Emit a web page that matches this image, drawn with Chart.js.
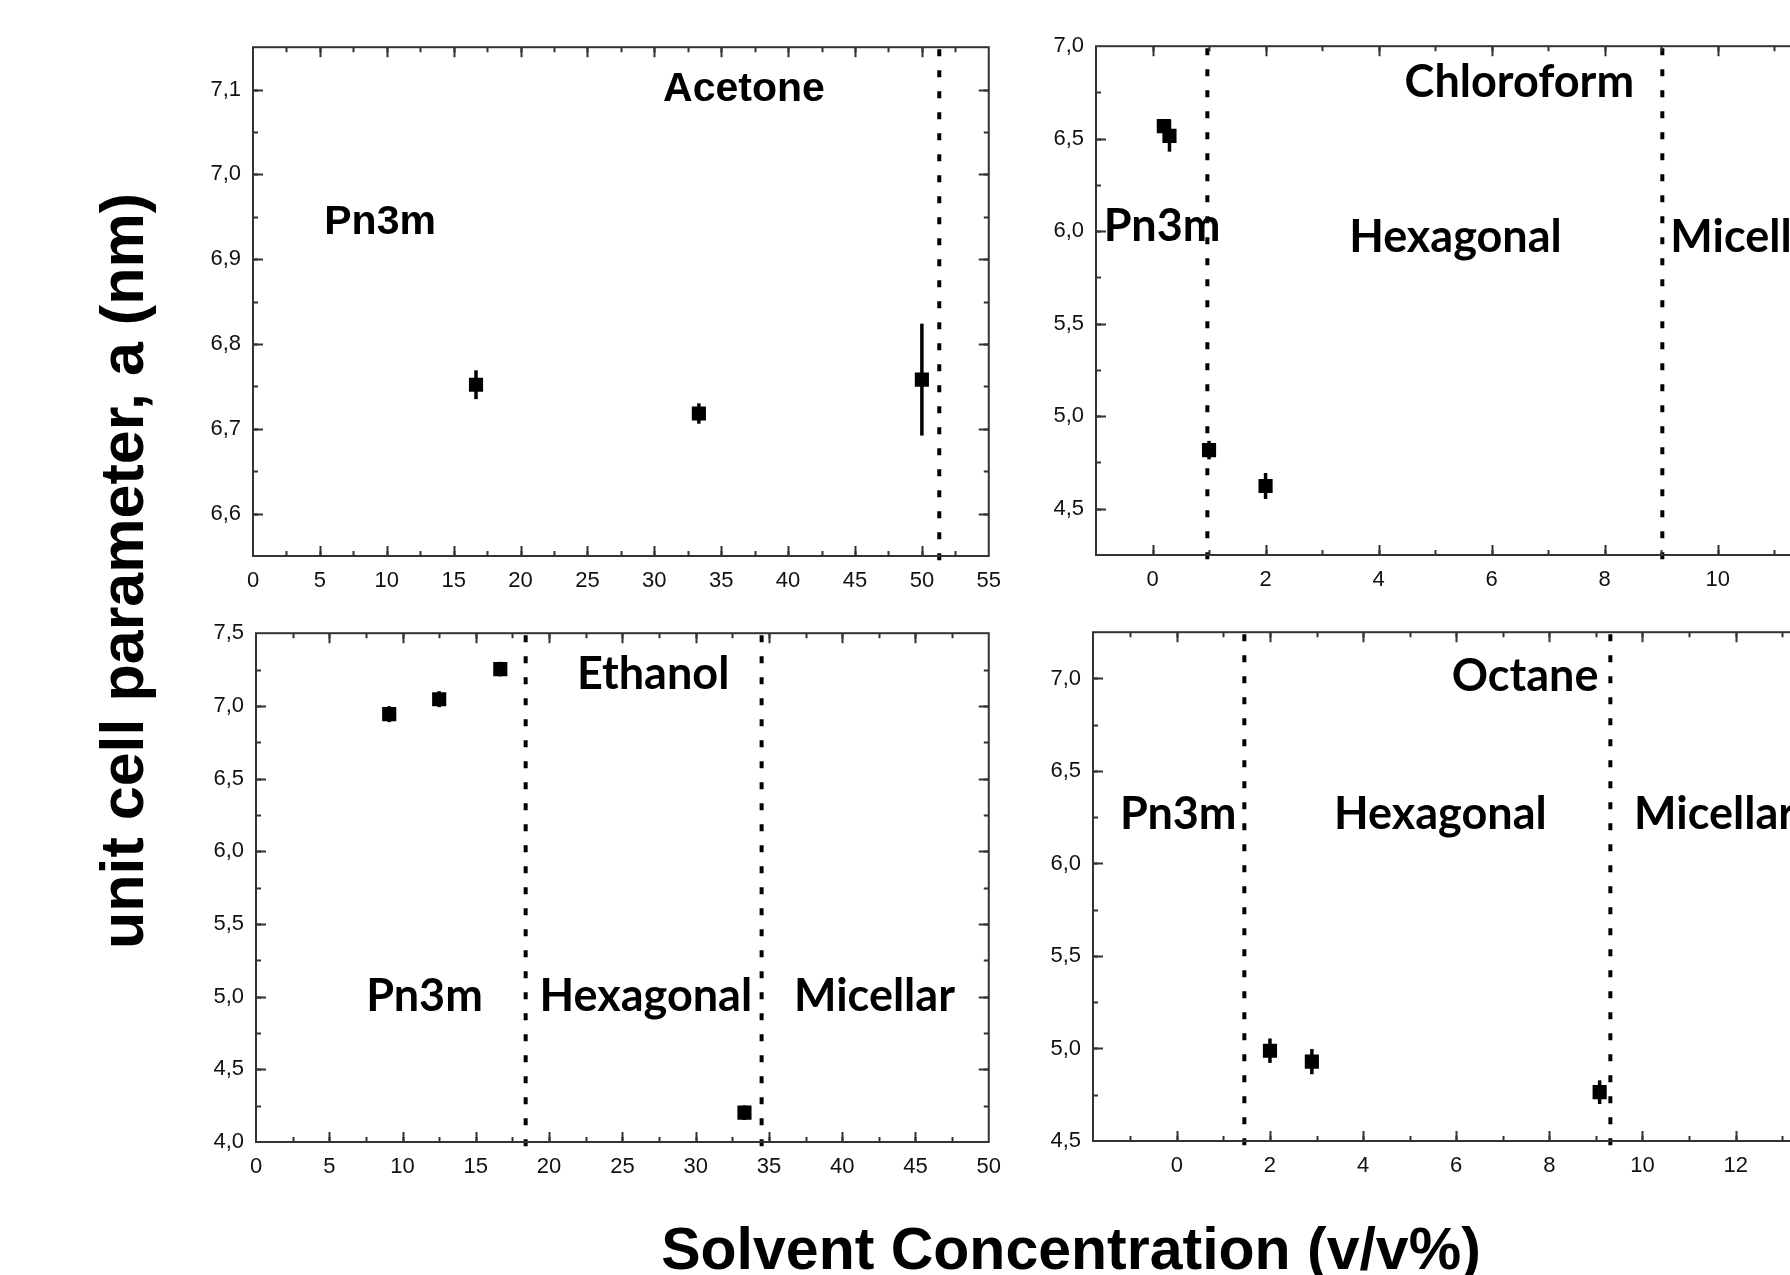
<!DOCTYPE html>
<html>
<head>
<meta charset="utf-8">
<script src="https://cdn.jsdelivr.net/npm/chart.js@4.4.1/dist/chart.umd.min.js"></script>
<style>
  html, body { margin: 0; padding: 0; background: #fff; overflow: hidden; }
  #page { position: relative; width: 1790px; height: 1275px; overflow: hidden; background: #fff; }
  canvas { position: absolute; }
  .ytitle { position: absolute; left: 122px; top: 571px; font: bold 61px 'Liberation Sans', Arial, sans-serif; line-height: 1; white-space: nowrap; color: #000; transform: translate(-50%, -50%) rotate(-90deg); }
  .xtitle { position: absolute; left: 1071px; top: 1220px; font: bold 59px 'Liberation Sans', Arial, sans-serif; line-height: 1; white-space: nowrap; color: #000; transform: translateX(-50%); }
</style>
</head>
<body>
<div id="page">
  <canvas id="acetone"></canvas>
  <canvas id="chloroform"></canvas>
  <canvas id="ethanol"></canvas>
  <canvas id="octane"></canvas>
  <div class="ytitle">unit cell parameter, a (nm)</div>
  <div class="xtitle">Solvent Concentration (v/v%)</div>
</div>
<script>
// Data
const acetoneX = [16.67, 33.33, 50];
const acetoneY = [6.752, 6.718, 6.758];
const acetoneErr = [0.017, 0.012, 0.066];
const acetoneBounds = [51.3];
const acetoneXTicks = [0, 5, 10, 15, 20, 25, 30, 35, 40, 45, 50, 55];
const acetoneYTicks = [6.6, 6.7, 6.8, 6.9, 7.0, 7.1];

const chloroformX = [0.2, 0.3, 1.0, 2.0];
const chloroformY = [6.568, 6.515, 4.817, 4.623];
const chloroformErr = [0.03, 0.085, 0.05, 0.07];
const chloroformBounds = [0.97, 9.02];
const chloroformXTicks = [0, 2, 4, 6, 8, 10, 12];
const chloroformYTicks = [4.5, 5.0, 5.5, 6.0, 6.5, 7.0];

const ethanolX = [9.09, 12.5, 16.67, 33.33];
const ethanolY = [6.943, 7.046, 7.253, 4.202];
const ethanolErr = [0.055, 0.055, 0.05, 0.05];
const ethanolBounds = [18.4, 34.5];
const ethanolXTicks = [0, 5, 10, 15, 20, 25, 30, 35, 40, 45, 50];
const ethanolYTicks = [4.0, 4.5, 5.0, 5.5, 6.0, 6.5, 7.0, 7.5];

const octaneX = [2.0, 2.9, 9.08];
const octaneY = [4.988, 4.929, 4.764];
const octaneErr = [0.066, 0.068, 0.064];
const octaneBounds = [1.45, 9.31];
const octaneXTicks = [0, 2, 4, 6, 8, 10, 12, 14];
const octaneYTicks = [4.5, 5.0, 5.5, 6.0, 6.5, 7.0];

const ARIAL = "'Liberation Sans', Arial, sans-serif";
const CALIBRI = "Lato, 'Open Sans', sans-serif";

// Padding around each plot box inside its canvas
const PADL = 90, PADT = 20, PADR = 24, PADB = 50;

function minorRange(min, max, step) {
    const out = [];
    for (let v = Math.ceil(min / step) * step; v <= max + 1e-9; v += step) out.push(+v.toFixed(4));
    return out;
}

const framePlugin = {
    id: 'frame',
    beforeDatasetsDraw(chart) {
        const p = chart.options.plugins.frame;
        const { ctx, chartArea: a, scales: { x, y } } = chart;
        // phase boundaries
        ctx.save();
        ctx.strokeStyle = '#000';
        ctx.lineWidth = 4;
        ctx.setLineDash([7, 14]);
        p.bounds.forEach(v => {
            const px = x.getPixelForValue(v);
            ctx.beginPath(); ctx.moveTo(px, a.top + 2); ctx.lineTo(px, a.bottom + 6); ctx.stroke();
        });
        ctx.restore();
        // error bars
        ctx.save();
        ctx.strokeStyle = '#000';
        ctx.lineWidth = 3.5;
        chart.data.datasets[0].data.forEach((d, i) => {
            const px = x.getPixelForValue(d.x);
            ctx.beginPath();
            ctx.moveTo(px, y.getPixelForValue(d.y + p.errors[i]));
            ctx.lineTo(px, y.getPixelForValue(d.y - p.errors[i]));
            ctx.stroke();
        });
        ctx.restore();
    },
    afterDraw(chart) {
        const p = chart.options.plugins.frame;
        const { ctx, chartArea: a, scales: { x, y } } = chart;
        ctx.save();
        ctx.strokeStyle = '#333';
        ctx.lineWidth = 2;
        ctx.strokeRect(a.left, a.top, a.right - a.left, a.bottom - a.top);
        const tick = (len, list, axis) => {
            list.forEach(v => {
                if (axis === 'x') {
                    if (v <= x.min + 1e-6 || v >= x.max - 1e-6) return;
                    const px = Math.round(x.getPixelForValue(v)) + 0.5;
                    ctx.beginPath();
                    ctx.moveTo(px, a.bottom); ctx.lineTo(px, a.bottom - len);
                    ctx.moveTo(px, a.top); ctx.lineTo(px, a.top + len);
                    ctx.stroke();
                } else {
                    if (v <= y.min + 1e-6 || v >= y.max - 1e-6) return;
                    const py = Math.round(y.getPixelForValue(v)) + 0.5;
                    ctx.beginPath();
                    ctx.moveTo(a.left, py); ctx.lineTo(a.left + len, py);
                    ctx.moveTo(a.right, py); ctx.lineTo(a.right - len, py);
                    ctx.stroke();
                }
            });
        };
        tick(10, p.xTicks, 'x');
        tick(5, minorRange(x.min, x.max, p.xMinor), 'x');
        tick(10, p.yTicks, 'y');
        tick(5, minorRange(y.min, y.max, p.yMinor), 'y');
        ctx.restore();
        // phase / solvent labels
        ctx.save();
        ctx.fillStyle = '#000';
        ctx.textBaseline = 'alphabetic';
        p.labels.forEach(l => {
            ctx.font = 'bold ' + l.size + 'px ' + l.family;
            ctx.textAlign = l.align || 'center';
            ctx.fillText(l.text, x.getPixelForValue(l.x), y.getPixelForValue(l.y) + l.size * 0.31);
        });
        ctx.restore();
    }
};

function makePanel(id, box, xs, ys, errs, bounds, xr, yr, xTicks, yTicks, xMinor, yMinor, labels) {
    const cv = document.getElementById(id);
    cv.width = box.r - box.l + PADL + PADR;
    cv.height = box.b - box.t + PADT + PADB;
    cv.style.left = (box.l - PADL) + 'px';
    cv.style.top = (box.t - PADT) + 'px';
    return new Chart(cv.getContext('2d'), {
        type: 'scatter',
        data: {
            datasets: [{
                data: xs.map((v, i) => ({ x: v, y: ys[i] })),
                pointStyle: 'rect', pointRadius: 10, pointHoverRadius: 10,
                backgroundColor: '#000', borderColor: '#000', borderWidth: 0,
                showLine: false
            }]
        },
        options: {
            responsive: false,
            animation: false,
            events: [],
            layout: { padding: { left: 0, top: PADT, right: PADR, bottom: 0 } },
            plugins: {
                legend: { display: false },
                tooltip: { enabled: false },
                frame: { bounds: bounds, errors: errs, xTicks: xTicks, yTicks: yTicks, xMinor: xMinor, yMinor: yMinor, labels: labels }
            },
            scales: {
                x: {
                    type: 'linear', min: xr[0], max: xr[1],
                    afterBuildTicks: s => { s.ticks = xTicks.map(v => ({ value: v })); },
                    afterFit: s => { s.height = PADB; },
                    grid: { display: false, drawTicks: false, tickLength: 0 },
                    border: { display: false },
                    ticks: { autoSkip: false, maxRotation: 0, padding: 12, color: '#111', font: { family: ARIAL, size: 22 }, callback: v => String(v) }
                },
                y: {
                    type: 'linear', min: yr[0], max: yr[1],
                    afterBuildTicks: s => { s.ticks = yTicks.map(v => ({ value: v })); },
                    afterFit: s => { s.width = PADL; },
                    grid: { display: false, drawTicks: false, tickLength: 0 },
                    border: { display: false },
                    ticks: { autoSkip: false, padding: 12, color: '#111', font: { family: ARIAL, size: 22 }, callback: v => v.toFixed(1).replace('.', ',') }
                }
            }
        },
        plugins: [framePlugin]
    });
}

makePanel('acetone', { l: 253, t: 42, r: 989, b: 556 },
    acetoneX, acetoneY, acetoneErr, acetoneBounds, [0, 55], [6.55, 7.15],
    acetoneXTicks, acetoneYTicks, 2.5, 0.05,
    [
        { text: 'Acetone', x: 36.7, y: 7.102, size: 41, family: ARIAL },
        { text: 'Pn3m', x: 9.5, y: 6.945, size: 41, family: ARIAL }
    ]);

makePanel('chloroform', { l: 1096, t: 41, r: 1831, b: 555 },
    chloroformX, chloroformY, chloroformErr, chloroformBounds, [-1, 12], [4.25, 7.0],
    chloroformXTicks, chloroformYTicks, 1, 0.25,
    [
        { text: 'Chloroform', x: 6.49, y: 6.80, size: 45, family: CALIBRI },
        { text: 'Pn3m', x: 0.17, y: 6.02, size: 45, family: CALIBRI },
        { text: 'Hexagonal', x: 5.36, y: 5.965, size: 45, family: CALIBRI },
        { text: 'Micellar', x: 9.16, y: 5.965, size: 45, family: CALIBRI, align: 'left' }
    ]);

makePanel('ethanol', { l: 256, t: 628, r: 989, b: 1142 },
    ethanolX, ethanolY, ethanolErr, ethanolBounds, [0, 50], [4.0, 7.5],
    ethanolXTicks, ethanolYTicks, 2.5, 0.25,
    [
        { text: 'Ethanol', x: 27.1, y: 7.21, size: 45, family: CALIBRI },
        { text: 'Pn3m', x: 11.5, y: 4.996, size: 45, family: CALIBRI },
        { text: 'Hexagonal', x: 26.6, y: 5.0, size: 45, family: CALIBRI },
        { text: 'Micellar', x: 42.2, y: 5.0, size: 45, family: CALIBRI }
    ]);

makePanel('octane', { l: 1093, t: 627, r: 1829, b: 1141 },
    octaneX, octaneY, octaneErr, octaneBounds, [-1.8, 14], [4.5, 7.25],
    octaneXTicks, octaneYTicks, 1, 0.25,
    [
        { text: 'Octane', x: 7.48, y: 7.01, size: 45, family: CALIBRI },
        { text: 'Pn3m', x: 0.03, y: 6.26, size: 45, family: CALIBRI },
        { text: 'Hexagonal', x: 5.66, y: 6.262, size: 45, family: CALIBRI },
        { text: 'Micellar', x: 9.82, y: 6.262, size: 45, family: CALIBRI, align: 'left' }
    ]);
</script>
</body>
</html>
